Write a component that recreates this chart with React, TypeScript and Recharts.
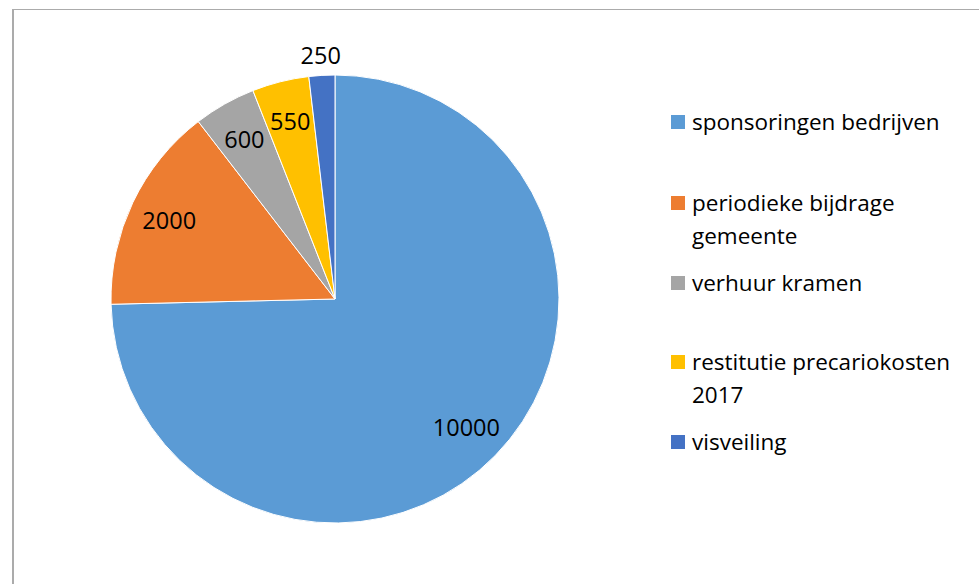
import { PieChart, Pie, Cell } from 'recharts';

const categories = [
  'sponsoringen bedrijven',
  'periodieke bijdrage gemeente',
  'verhuur kramen',
  'restitutie precariokosten 2017',
  'visveiling',
];
const amounts = [10000, 2000, 600, 550, 250];
const colors = ['#5B9BD5', '#ED7D31', '#A5A5A5', '#FFC000', '#4472C4'];

const data = categories.map((name, i) => ({ name, value: amounts[i] }));

const FONT = '"Open Sans", "Liberation Sans", sans-serif';
const RADIAN = Math.PI / 180;

// eslint-disable-next-line @typescript-eslint/no-explicit-any
function SliceLabel({ cx, cy, midAngle, outerRadius, percent, value }: any) {
  // tiny slices get their label pushed outside the pie, like Excel's best fit
  const r = percent < 0.03 ? outerRadius + 20 : outerRadius * 0.82;
  const x = cx + r * Math.cos(-midAngle * RADIAN);
  const y = cy + r * Math.sin(-midAngle * RADIAN);
  return (
    <text x={x} y={y} fill="#000" fontSize={23.5} fontFamily={FONT} textAnchor="middle" dominantBaseline="central">
      {value}
    </text>
  );
}

// extra space above each legend entry so wrapped entries keep Excel's spacing
const legendGaps = [0, 48, 14, 46, 14];

function LegendBox() {
  return (
    <div
      style={{
        position: 'absolute',
        left: 671,
        top: 105,
        width: 305,
        fontFamily: FONT,
        fontSize: 22.5,
        lineHeight: '33px',
        color: '#000',
      }}
    >
      {categories.map((name, i) => (
        <div key={name} style={{ display: 'flex', alignItems: 'flex-start', marginTop: legendGaps[i] }}>
          <span
            style={{
              width: 14,
              height: 14,
              background: colors[i],
              marginTop: 10,
              marginRight: 7,
              flexShrink: 0,
            }}
          />
          <span style={{ width: 284 }}>{name}</span>
        </div>
      ))}
    </div>
  );
}

export default function App() {
  return (
    <div style={{ position: 'absolute', left: 0, top: 0, width: 979, height: 584, overflow: 'hidden', background: '#fff' }}>
      <div
        style={{
          position: 'absolute',
          left: 12,
          top: 9,
          width: 1000,
          height: 600,
          borderLeft: '2px solid #ABABAB',
          borderTop: '1px solid #ABABAB',
        }}
      />
      <div style={{ position: 'absolute', left: 0, top: 0 }}>
        <PieChart width={979} height={584} margin={{ top: 0, right: 0, bottom: 0, left: 0 }}>
          <Pie
            data={data}
            dataKey="value"
            nameKey="name"
            cx={335}
            cy={299}
            outerRadius={224}
            startAngle={90}
            endAngle={-270}
            stroke="#fff"
            strokeWidth={1}
            label={SliceLabel}
            labelLine={false}
            isAnimationActive={false}
          >
            {data.map((d, i) => (
              <Cell key={d.name} fill={colors[i]} />
            ))}
          </Pie>
        </PieChart>
      </div>
      <LegendBox />
    </div>
  );
}
